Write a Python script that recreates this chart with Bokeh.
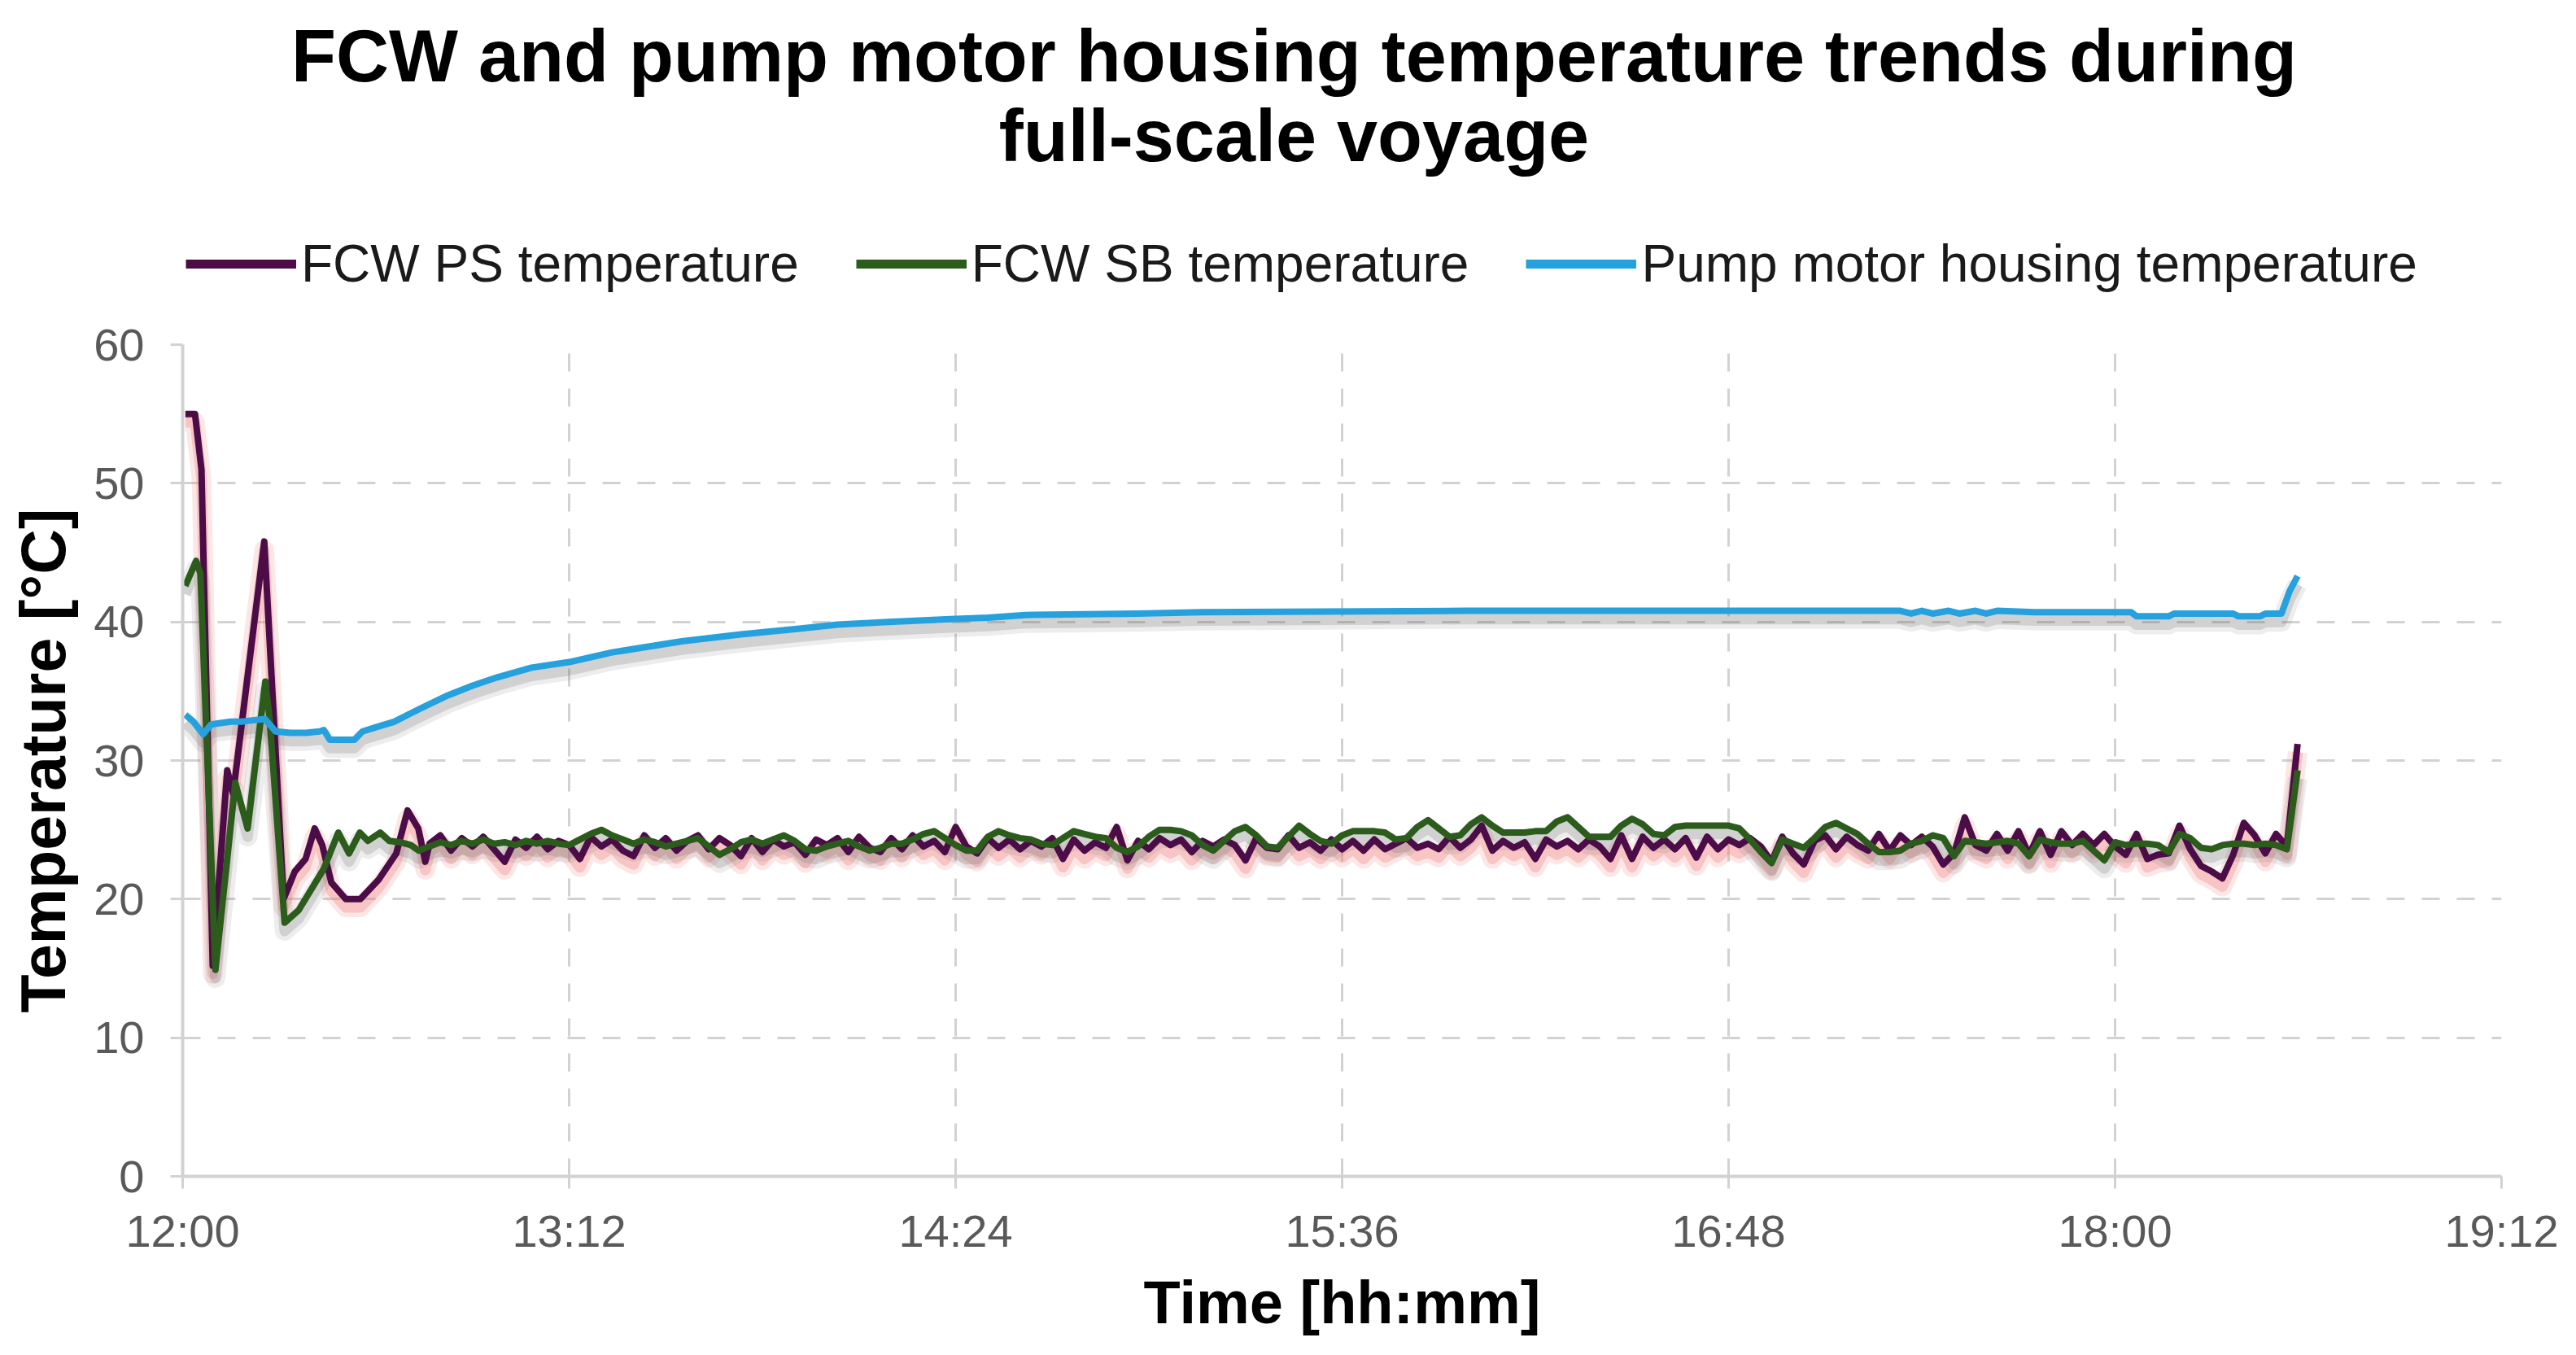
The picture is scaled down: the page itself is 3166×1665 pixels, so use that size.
from bokeh.plotting import figure
from bokeh.layouts import column
from bokeh.models import Range1d, FixedTicker, Legend, LegendItem
from bokeh.core.properties import value
from bokeh.embed import file_html
from bokeh.resources import INLINE

# ---------------- data (minutes after 12:00) ----------------
title_lines = ["FCW and pump motor housing temperature trends during", "full-scale voyage"]
series_labels = ["FCW PS temperature", "FCW SB temperature", "Pump motor housing temperature"]
x_tick_values = [0, 72, 144, 216, 288, 360, 432]
x_tick_labels = ["12:00", "13:12", "14:24", "15:36", "16:48", "18:00", "19:12"]
y_tick_values = [0, 10, 20, 30, 40, 50, 60]

ps_time_early = [0.5, 2.3, 3.5, 5.6, 8.3, 9.4, 15.2, 18.8, 20.9, 22.9, 24.6, 26.0, 27.7,
                 30.4, 33.1, 36.5, 39.8, 41.9, 43.9, 45.2]
ps_temp_early = [55.0, 55.0, 51.0, 15.2, 29.3, 27.6, 45.8, 20.0, 22.0, 22.9, 25.1, 23.9, 21.2,
                 20.0, 20.0, 21.4, 23.3, 26.4, 25.1, 22.7]

sb_time_early = [0.5, 2.5, 3.3, 6.1, 9.8, 12.1, 15.4, 16.2, 19.0, 21.6, 26.3, 29.0, 31.0,
                 33.0, 34.5, 36.8, 38.5, 40.5, 42.5, 44.0]
sb_temp_early = [42.6, 44.4, 43.5, 14.9, 28.4, 25.1, 35.7, 33.0, 18.3, 19.2, 22.2, 24.8, 23.3,
                 24.8, 24.2, 24.8, 24.2, 24.1, 23.9, 23.5]

# regular 2-minute logging from 12:46 to 18:32
fcw_log_start, fcw_log_step, fcw_log_count = 46, 2, 174

ps_temp_log = [
    24.0, 24.6, 23.5, 24.4, 23.8, 24.5, 23.6, 22.7, 24.3, 23.7,
    24.5, 23.6, 24.2, 23.9, 22.9, 24.5, 23.8, 24.3, 23.5, 23.1,
    24.6, 23.7, 24.4, 23.5, 24.2, 24.6, 23.6, 24.4, 23.9, 23.1,
    24.4, 23.4, 24.3, 23.8, 24.1, 23.2, 24.3, 23.9, 24.4, 23.4,
    24.5, 23.7, 23.4, 24.4, 23.6, 24.6, 23.8, 24.2, 23.4, 25.2,
    23.8, 23.3, 24.4, 23.7, 24.3, 23.6, 24.2, 23.8, 24.4, 22.9,
    24.3, 23.5, 24.1, 23.7, 25.2, 22.8, 24.2, 23.6, 24.4, 23.9,
    24.3, 23.4, 24.2, 23.8, 24.3, 23.9, 22.8, 24.4, 23.7, 23.6,
    24.6, 23.7, 24.1, 23.5, 24.3, 23.6, 24.2, 23.5, 24.3, 23.6,
    24.0, 24.4, 23.7, 24.0, 23.6, 24.5, 23.7, 24.3, 25.3, 23.5,
    24.2, 23.7, 24.1, 22.9, 24.3, 23.8, 24.2, 23.6, 24.3, 23.8,
    22.9, 24.6, 22.9, 24.5, 23.7, 24.3, 23.6, 24.4, 23.0, 24.5,
    23.6, 24.3, 23.9, 24.4, 23.8, 22.7, 24.5, 23.3, 22.5, 24.2,
    24.6, 23.6, 24.5, 23.9, 23.5, 24.7, 23.5, 24.6, 23.9, 24.5,
    23.8, 22.5, 23.3, 25.9, 23.9, 23.5, 24.7, 23.5, 24.9, 23.2,
    24.9, 23.2, 24.9, 23.9, 24.7, 23.9, 24.7, 23.8, 23.2, 24.7,
    22.9, 23.2, 23.3, 25.3, 23.6, 22.4, 22.0, 21.5, 23.2, 25.5,
    24.6, 23.3, 24.7, 23.8,
]
sb_temp_log = [
    23.8, 24.1, 23.9, 24.2, 24.0, 24.3, 24.0, 24.1, 23.9, 24.2,
    24.0, 24.2, 24.0, 23.9, 24.3, 24.7, 25.0, 24.6, 24.3, 24.0,
    24.3, 24.1, 23.8, 24.0, 24.2, 24.4, 23.8, 23.2, 23.6, 24.1,
    24.3, 24.0, 24.3, 24.6, 24.2, 23.6, 23.5, 23.8, 24.0, 24.2,
    23.8, 23.5, 23.7, 24.0, 24.0, 24.3, 24.7, 24.9, 24.4, 23.9,
    23.5, 23.5, 24.5, 24.9, 24.6, 24.4, 24.3, 24.0, 23.9, 24.4,
    24.9, 24.7, 24.5, 24.4, 23.7, 23.4, 23.8, 24.5, 25.0, 25.0,
    24.9, 24.6, 23.9, 23.5, 24.2, 24.9, 25.2, 24.6, 23.8, 23.7,
    24.5, 25.3, 24.7, 24.2, 24.0, 24.6, 24.9, 24.9, 24.9, 24.8,
    24.3, 24.4, 25.2, 25.7, 25.1, 24.5, 24.6, 25.4, 25.9, 25.3,
    24.8, 24.8, 24.8, 24.9, 24.9, 25.6, 25.9, 25.2, 24.5, 24.5,
    24.5, 25.3, 25.8, 25.4, 24.7, 24.6, 25.2, 25.3, 25.3, 25.3,
    25.3, 25.3, 25.1, 24.3, 23.4, 22.6, 24.3, 24.0, 23.7, 24.4,
    25.2, 25.5, 25.1, 24.7, 24.0, 23.4, 23.4, 23.5, 24.0, 24.2,
    24.6, 24.4, 23.1, 24.2, 24.1, 24.0, 24.1, 24.2, 24.0, 23.1,
    24.3, 24.1, 24.0, 24.0, 24.2, 23.5, 22.8, 24.1, 23.9, 24.0,
    24.0, 23.9, 23.4, 24.7, 24.4, 23.7, 23.6, 23.9, 24.0, 24.0,
    23.9, 24.0, 23.9, 23.6,
]
fcw_time_final = [394.0]
ps_temp_final = [31.2]
sb_temp_final = [29.3]

pump_time = [0.5, 2.0, 3.8, 5.3, 7.0, 9.0, 11.0, 13.0, 15.3, 17.3, 20.0, 23.0, 25.5, 26.3,
             27.4, 30.0, 32.0, 33.5, 36.0, 39.4, 44.0, 49.4, 54.0, 58.6, 65.0, 72.0, 80.0,
             93.0, 104.0, 114.5, 122.0, 131.5, 143.0, 150.0, 157.0, 178.0, 190.0, 239.0,
             320.0, 322.0, 324.0, 326.0, 329.0, 331.0, 334.0, 336.0, 338.0, 345.0, 363.0,
             364.0, 370.0, 371.0, 382.0, 383.0, 387.0, 388.0, 391.0, 392.5, 394.0]
pump_temp = [33.3, 32.8, 31.9, 32.6, 32.7, 32.8, 32.8, 32.9, 33.0, 32.1, 32.0, 32.0, 32.1, 32.2,
             31.5, 31.5, 31.5, 32.1, 32.4, 32.8, 33.7, 34.7, 35.4, 36.0, 36.7, 37.1, 37.8,
             38.6, 39.1, 39.5, 39.8, 40.0, 40.2, 40.3, 40.5, 40.6, 40.7, 40.8,
             40.8, 40.6, 40.8, 40.6, 40.8, 40.6, 40.8, 40.6, 40.8, 40.7, 40.7,
             40.4, 40.4, 40.6, 40.6, 40.4, 40.4, 40.6, 40.6, 42.2, 43.3]

colors = ["#4b0c47", "#2b5c1c", "#25a1dd"]
shadow_colors = ["#f07a7a", "#6f6f6f", "#6f6f6f"]
shadow_alphas = [(0.18, 0.32), (0.12, 0.22), (0.12, 0.22)]

# ---------------- assemble series ----------------
log_time = [fcw_log_start + i * fcw_log_step for i in range(fcw_log_count)]
ps_time = ps_time_early + log_time + fcw_time_final
ps_temp = ps_temp_early + ps_temp_log + ps_temp_final
sb_time = sb_time_early + log_time + fcw_time_final
sb_temp = sb_temp_early + sb_temp_log + sb_temp_final
series = [(ps_time, ps_temp), (sb_time, sb_temp), (pump_time, pump_temp)]

FONT = "Liberation Sans"
W = 3150
HEAD_H = 393
MAIN_H = 1252
BORDER_L, BORDER_R = 224, 76
FRAME_W = W - BORDER_L - BORDER_R

# ---------------- header: title + legend ----------------
# the column aligns this frame with the chart frame; one x unit = one pixel from the frame's left
head = figure(width=W, height=HEAD_H, output_backend="svg", toolbar_location=None,
              x_range=Range1d(0, FRAME_W), y_range=Range1d(0, HEAD_H),
              x_axis_type=None, y_axis_type=None, min_border=0)
head.outline_line_color = None
head.grid.visible = False
head.text(x=[1590 - BORDER_L, 1590 - BORDER_L], y=[HEAD_H - 68, HEAD_H - 166], text=title_lines,
          text_font=value(FONT), text_font_style="bold", text_font_size="90px",
          text_color="#000000", text_align="center", text_baseline="alphabetic")
# legend keys: short off-canvas strokes that only serve as legend glyphs
key_renderers = [head.line(x=[-2000, -1990], y=[10, 10], line_color=c, line_width=11)
                 for c in colors]
legend = Legend(items=[LegendItem(label=lab, renderers=[r]) for lab, r in zip(series_labels, key_renderers)],
                orientation="horizontal", location=(228 - BORDER_L, HEAD_H - 323 - 38),
                label_text_font=FONT, label_text_font_size="64px", label_text_color="#1a1a1a",
                glyph_width=136, glyph_height=30, label_standoff=6, spacing=70,
                padding=0, margin=0, border_line_color=None, background_fill_alpha=0)
head.add_layout(legend, "center")

# ---------------- main chart ----------------
p = figure(width=W, height=MAIN_H, output_backend="svg", toolbar_location=None,
           x_range=Range1d(0, 432), y_range=Range1d(0, 60),
           min_border_left=BORDER_L, min_border_right=BORDER_R, min_border_top=30,
           min_border_bottom=200)
p.extra_y_ranges = {"shadow": Range1d(0.6, 60.6)}
p.outline_line_color = None
p.background_fill_color = "white"
p.border_fill_color = "white"

p.xgrid.ticker = FixedTicker(ticks=x_tick_values)
p.ygrid.ticker = FixedTicker(ticks=y_tick_values)
for g in (p.xgrid[0], p.ygrid[0]):
    g.grid_line_color = "#d2d2d2"
    g.grid_line_width = 3
    g.grid_line_dash = "22 21"

xa = p.xaxis[0]
ya = p.yaxis[0]
xa.ticker = FixedTicker(ticks=x_tick_values)
xa.major_label_overrides = {v: s for v, s in zip(x_tick_values, x_tick_labels)}
ya.ticker = FixedTicker(ticks=y_tick_values)
for ax in (xa, ya):
    ax.axis_line_color = "#d2d2d2"
    ax.axis_line_width = 4
    ax.major_tick_line_color = "#d2d2d2"
    ax.major_tick_line_width = 3
    ax.major_tick_out = 15
    ax.major_tick_in = 0
    ax.minor_tick_line_color = None
    ax.major_label_text_font = FONT
    ax.major_label_text_font_size = "56px"
    ax.major_label_text_color = "#595959"
    ax.axis_label_text_font = FONT
    ax.axis_label_text_font_style = "bold"
    ax.axis_label_text_color = "#000000"
xa.axis_label_text_font_size = "74px"
ya.axis_label_text_font_size = "77px"
xa.axis_label = "Time [hh:mm]"
ya.axis_label = "Temperature [°C]"
xa.major_label_standoff = 20
ya.major_label_standoff = 32
xa.axis_label_standoff = 12
ya.axis_label_standoff = 16

for (t, v), sc, (a1, a2) in zip(series, shadow_colors, shadow_alphas):
    p.line(t, v, line_color=sc, line_alpha=a1, line_width=24, y_range_name="shadow",
           line_join="round")
    p.line(t, v, line_color=sc, line_alpha=a2, line_width=13, y_range_name="shadow",
           line_join="round")

for (t, v), c in zip(series, colors):
    p.line(t, v, line_color=c, line_width=8, line_join="round")

open("out.html", "w").write(file_html(column(head, p, spacing=0), INLINE))
